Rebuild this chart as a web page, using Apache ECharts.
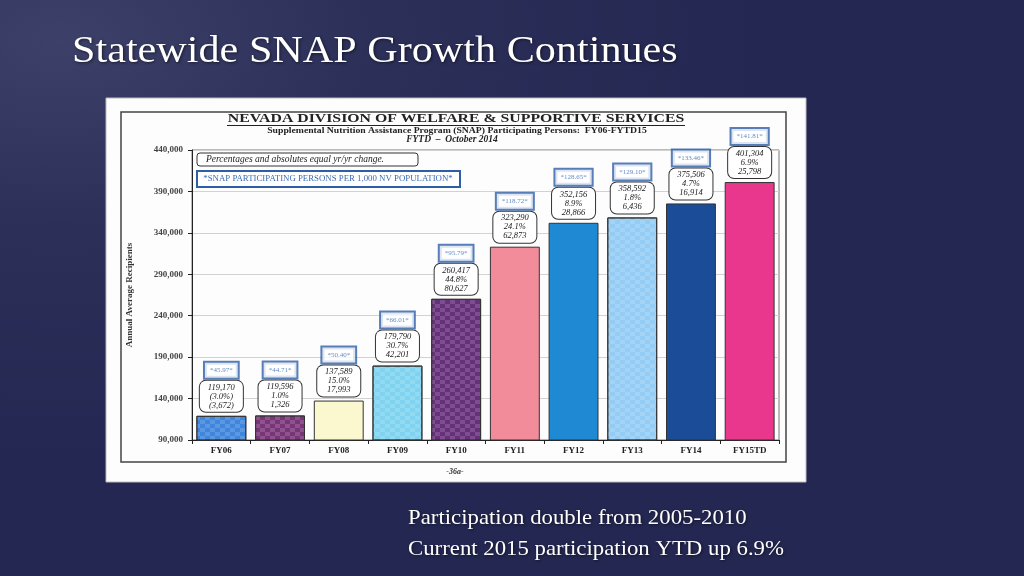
<!DOCTYPE html>
<html>
<head>
<meta charset="utf-8">
<script src="https://cdn.jsdelivr.net/npm/echarts@6/dist/echarts.min.js"></script>
<style>
  html, body { margin: 0; padding: 0; width: 1024px; height: 576px; overflow: hidden; }
  body { background: radial-gradient(ellipse 700px 420px at 60px 40px, #3d4068 0%, #2c2f58 45%, #242751 100%); }
  #chart { width: 1024px; height: 576px; }
</style>
</head>
<body>
<div id="chart"></div>
<script>
// ---- data ----
const categories = ['FY06', 'FY07', 'FY08', 'FY09', 'FY10', 'FY11', 'FY12', 'FY13', 'FY14', 'FY15TD'];
const recipients = [119170, 119596, 137589, 179790, 260417, 323290, 352156, 358592, 375506, 401304];
const pctChange = ['(3.0%)', '1.0%', '15.0%', '30.7%', '44.8%', '24.1%', '8.9%', '1.8%', '4.7%', '6.9%'];
const absChange = ['(3,672)', '1,326', '17,993', '42,201', '80,627', '62,873', '28,866', '6,436', '16,914', '25,798'];
const perThousand = ['45.97', '44.71', '50.40', '66.01', '95.79', '118.72', '128.65', '129.10', '133.46', '141.81'];
const yTicks = { min: 90000, max: 440000, step: 50000 };

// ---- styles ----
const barColors = ['#3f86dc', '#7a3579', '#fbf8cf', '#7fd3f0', '#66307a', '#f28b9a', '#1f8ad3', '#93cdf5', '#1b4c98', '#e8378c'];
const checkered = [true, true, false, true, true, false, false, true, false, false];
const serif = '"Liberation Serif", "DejaVu Serif", serif';

function fmt(n) { return n.toLocaleString('en-US'); }

const chart = echarts.init(document.getElementById('chart'), null, { renderer: 'canvas' });

const barData = recipients.map((v, i) => {
  const style = { color: barColors[i] };
  if (checkered[i]) {
    style.decal = {
      symbol: 'rect', symbolSize: 1,
      dashArrayX: [[5, 5], [0, 5, 5, 0]], dashArrayY: [4, 0],
      color: 'rgba(255,255,255,0.15)'
    };
  }
  return { value: v, itemStyle: style };
});

const shadow = { textShadowColor: 'rgba(0,0,0,0.55)', textShadowBlur: 3, textShadowOffsetX: 1, textShadowOffsetY: 1 };

chart.setOption({
  backgroundColor: 'transparent',
  animation: false,
  grid: { left: 192, top: 150, width: 587, height: 290, show: true, borderColor: '#777', borderWidth: 1, backgroundColor: 'transparent' },
  xAxis: {
    type: 'category', data: categories,
    axisLine: { lineStyle: { color: '#222', width: 1 } },
    axisTick: { show: true, alignWithLabel: false, length: 4, lineStyle: { color: '#222' } },
    axisLabel: { color: '#222', fontFamily: serif, fontWeight: 'bold', fontSize: 9, margin: 6 }
  },
  yAxis: {
    type: 'value', min: yTicks.min, max: yTicks.max, interval: yTicks.step,
    name: 'Annual Average Recipients', nameLocation: 'middle', nameGap: 58, nameRotate: 90,
    nameTextStyle: { color: '#333', fontFamily: serif, fontWeight: 'bold', fontSize: 9 },
    axisLine: { show: true, lineStyle: { color: '#222' } },
    axisTick: { show: true, length: 4, lineStyle: { color: '#222' } },
    axisLabel: { color: '#444', fontFamily: serif, fontWeight: 'bold', fontSize: 9, margin: 9, formatter: v => fmt(v) },
    splitLine: { show: true, lineStyle: { color: '#d2d2d2', width: 1 } }
  },
  series: [
    {
      type: 'bar', data: barData, barWidth: '85%',
      itemStyle: { borderColor: '#333', borderWidth: 1 },
      label: {
        show: true, position: 'top', distance: 4,
        formatter: p => fmt(recipients[p.dataIndex]) + '\n' + pctChange[p.dataIndex] + '\n' + absChange[p.dataIndex],
        fontFamily: serif, fontStyle: 'italic', fontSize: 8.5, lineHeight: 9, color: '#1a1a1a',
        width: 35, align: 'center',
        backgroundColor: '#fff', borderColor: '#333', borderWidth: 1, borderRadius: 6, padding: [2, 4]
      },
      z: 2
    },
    {
      type: 'scatter', data: recipients, symbolSize: 0, silent: true,
      label: {
        show: true, position: 'top', distance: 38,
        formatter: p => '*' + perThousand[p.dataIndex] + '*',
        fontFamily: serif, fontSize: 7, color: '#3a6db4',
        backgroundColor: '#fff', borderColor: '#2d5ea8', borderWidth: 2, padding: [4, 5]
      },
      z: 3
    }
  ],
  graphic: [
    // scanned page
    { type: 'rect', shape: { x: 106, y: 98, width: 700, height: 384 }, style: { fill: '#fdfdfd', stroke: '#bbb', lineWidth: 1 }, z: -10 },
    { type: 'rect', shape: { x: 121, y: 112, width: 665, height: 350 }, style: { fill: 'none', stroke: '#444', lineWidth: 1.5 }, z: -9 },
    // headings
    { type: 'text', x: 456, y: 118.5, scaleX: 1.17, style: { text: 'NEVADA DIVISION OF WELFARE & SUPPORTIVE SERVICES', font: 'bold 13.5px ' + serif, fill: '#222', align: 'center', verticalAlign: 'middle' } },
    { type: 'line', shape: { x1: 227, y1: 125.5, x2: 685, y2: 125.5 }, style: { stroke: '#222', lineWidth: 1 } },
    { type: 'text', x: 457, y: 130.5, scaleX: 1.13, style: { text: 'Supplemental Nutrition Assistance Program (SNAP) Participating Persons:  FY06-FYTD15', font: 'bold 8.6px ' + serif, fill: '#222', align: 'center', verticalAlign: 'middle' } },
    { type: 'text', x: 452, y: 140, style: { text: 'FYTD  \u2013  October 2014', font: 'italic bold 9.5px ' + serif, fill: '#222', align: 'center', verticalAlign: 'middle' } },
    // legend boxes
    { type: 'rect', shape: { x: 197, y: 153, width: 221, height: 13, r: 3 }, style: { fill: '#fff', stroke: '#333', lineWidth: 1 }, z: 5 },
    { type: 'text', x: 206, y: 159.5, z: 6, style: { text: 'Percentages and absolutes equal yr/yr change.', font: 'italic 9.5px ' + serif, fill: '#222', verticalAlign: 'middle' } },
    { type: 'rect', shape: { x: 197, y: 171, width: 263, height: 16 }, style: { fill: '#fff', stroke: '#2d5ea8', lineWidth: 2 }, z: 5 },
    { type: 'text', x: 328, y: 179, z: 6, style: { text: '*SNAP PARTICIPATING PERSONS PER 1,000 NV POPULATION*', font: '8.8px ' + serif, fill: '#3a6db4', align: 'center', verticalAlign: 'middle' } },
    // page number
    { type: 'text', x: 455, y: 472, style: { text: '-36a-', font: 'italic bold 8px ' + serif, fill: '#333', align: 'center', verticalAlign: 'middle' } },
    // slide title & notes
    { type: 'text', x: 72, y: 52, scaleX: 1.14, style: Object.assign({ text: 'Statewide SNAP Growth Continues', font: '37px ' + serif, fill: '#ffffff', verticalAlign: 'middle' }, shadow) },
    { type: 'text', x: 408, y: 518, scaleX: 1.06, style: Object.assign({ text: 'Participation double from 2005-2010', font: '21.5px ' + serif, fill: '#ffffff', verticalAlign: 'middle' }, shadow) },
    { type: 'text', x: 408, y: 549, scaleX: 1.06, style: Object.assign({ text: 'Current 2015 participation YTD up 6.9%', font: '21.5px ' + serif, fill: '#ffffff', verticalAlign: 'middle' }, shadow) }
  ]
});
</script>
</body>
</html>
